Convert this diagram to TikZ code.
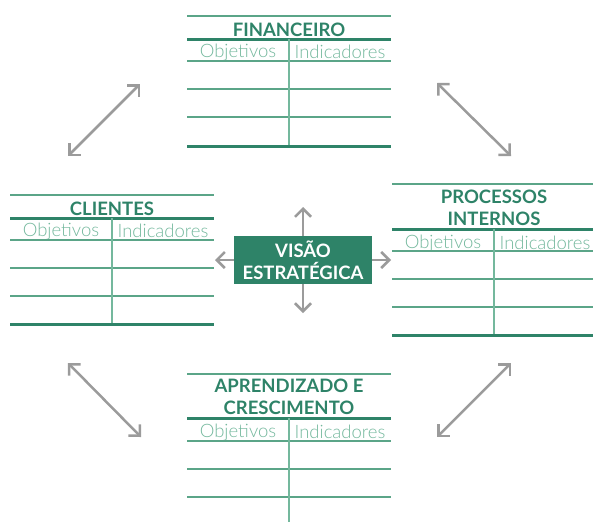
\documentclass[tikz,border=0pt]{standalone}
\usepackage{fontspec}
\setmainfont{Lato}
\newfontfamily\leve{Lato Light}
\usepackage{tikz}
\usetikzlibrary{arrows.meta,positioning,calc}

\definecolor{verde}{HTML}{2E8368}
\definecolor{verdemedio}{HTML}{5BA588}
\definecolor{verdeclaro}{HTML}{74B89D}
\definecolor{cinza}{HTML}{9B9B9B}

\begin{document}
\begin{tikzpicture}[
        x=1pt, y=-1pt,
        titulo/.style={font=\fontsize{18.5}{22}\selectfont\bfseries, text=verde, align=center},
        cabeca/.style={font=\leve\fontsize{18.5}{20}\selectfont, text=verdeclaro},
        fina/.style={draw=verdemedio, line width=1.4pt},
        grossa/.style={draw=verde, line width=3pt},
        divisao/.style={draw=verdeclaro, line width=1.5pt},
        seta/.style={draw=cinza, line width=2.5pt, {Straight Barb[length=8pt,width=16pt]}-{Straight Barb[length=8pt,width=16pt]}},
        setaum/.style={draw=cinza, line width=2.5pt, -{Straight Barb[length=8pt,width=16pt]}}
    ]
    \useasboundingbox (0,0) rectangle (593,522);

    % financeiro
    \draw[fina] (187,16) -- (391,16);
    \node[titulo] (fin) at (289,30) {FINANCEIRO};
    \draw[grossa] (187,39) -- (391,39);
    \node[cabeca] (fin-obj) at (238,52) {Objetivos};
    \node[cabeca] (fin-ind) at (340,52) {Indicadores};
    \draw[fina] (187,61) -- (391,61);
    \draw[fina] (187,89) -- (391,89);
    \draw[fina] (187,117) -- (391,117);
    \draw[divisao] (289,39) -- (289,146);
    \draw[grossa] (187,146) -- (391,146);

    % clientes
    \draw[fina] (10,195) -- (214,195);
    \node[titulo] (cli) at (112,209) {CLIENTES};
    \draw[grossa] (10,218) -- (214,218);
    \node[cabeca] (cli-obj) at (61,231) {Objetivos};
    \node[cabeca] (cli-ind) at (163,231) {Indicadores};
    \draw[fina] (10,240) -- (214,240);
    \draw[fina] (10,268) -- (214,268);
    \draw[fina] (10,296) -- (214,296);
    \draw[divisao] (112,218) -- (112,324);
    \draw[grossa] (10,324) -- (214,324);

    % processos internos
    \draw[fina] (392,184) -- (593,184);
    \node[titulo] (proc) at (494,208) {PROCESSOS\\INTERNOS};
    \draw[grossa] (392,229) -- (593,229);
    \node[cabeca] (proc-obj) at (443,243) {Objetivos};
    \node[cabeca] (proc-ind) at (545,243) {Indicadores};
    \draw[fina] (392,251) -- (593,251);
    \draw[fina] (392,279) -- (593,279);
    \draw[fina] (392,307) -- (593,307);
    \draw[divisao] (494,229) -- (494,335);
    \draw[grossa] (392,335) -- (593,335);

    % aprendizado e crescimento
    \draw[fina] (187,374) -- (391,374);
    \node[titulo] (apr) at (289,397) {APRENDIZADO E\\CRESCIMENTO};
    \draw[grossa] (187,418) -- (391,418);
    \node[cabeca] (apr-obj) at (238,432) {Objetivos};
    \node[cabeca] (apr-ind) at (340,432) {Indicadores};
    \draw[fina] (187,441) -- (391,441);
    \draw[fina] (187,469) -- (391,469);
    \draw[fina] (187,497) -- (391,497);
    \draw[divisao] (289,418) -- (289,522);

    % visao estrategica
    \node[fill=verde, text=white, font=\fontsize{18.5}{22}\selectfont\bfseries, align=center,
          minimum width=138pt, minimum height=48pt, inner sep=0pt] (visao) at (303,260) {VISÃO\\ESTRATÉGICA};
    \coordinate (vN) at (303,207);
    \coordinate (vS) at (303,313);
    \coordinate (vO) at (215,260);
    \coordinate (vL) at (391,260);
    \draw[setaum] (visao.north) -- (vN);
    \draw[setaum] (visao.south) -- (vS);
    \draw[setaum] (visao.west) -- (vO);
    \draw[setaum] (visao.east) -- (vL);

    % setas entre perspectivas
    \coordinate (no-a) at (68,156);
    \coordinate (no-b) at (140,84);
    \coordinate (ne-a) at (437,83);
    \coordinate (ne-b) at (511,156);
    \coordinate (so-a) at (68,363);
    \coordinate (so-b) at (141,437);
    \coordinate (se-a) at (437,437);
    \coordinate (se-b) at (511,363);
    \draw[seta] (no-a) -- (no-b);
    \draw[seta] (ne-a) -- (ne-b);
    \draw[seta] (so-a) -- (so-b);
    \draw[seta] (se-a) -- (se-b);
\end{tikzpicture}
\end{document}
